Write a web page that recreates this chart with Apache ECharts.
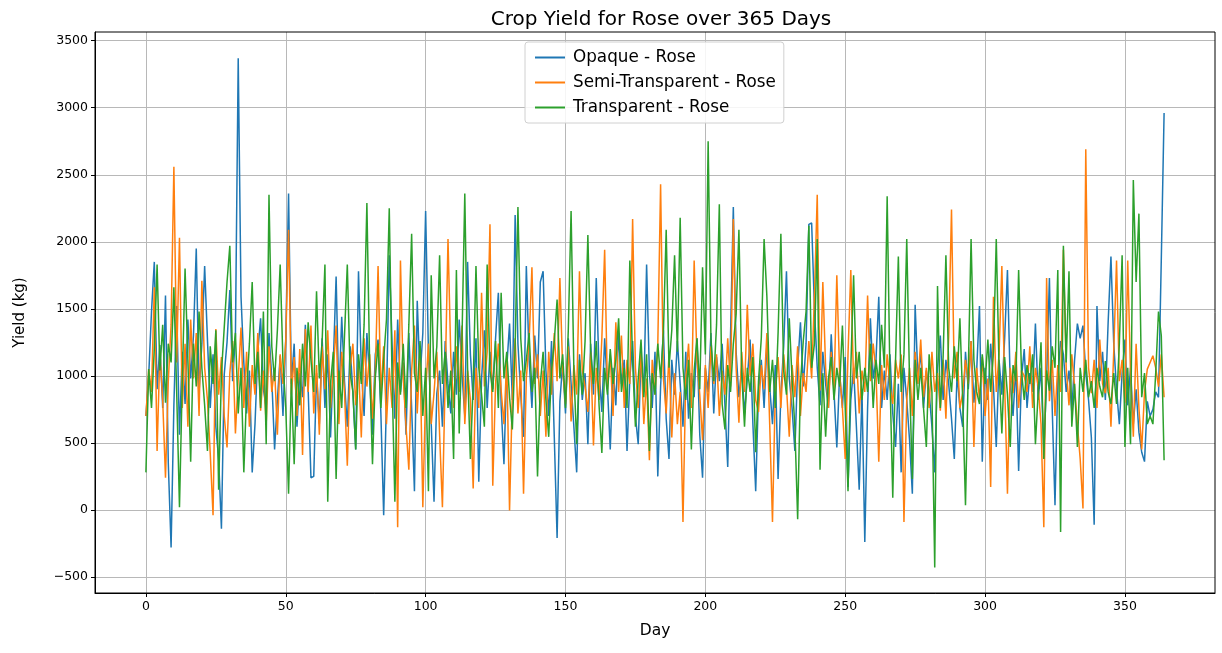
<!DOCTYPE html>
<html><head><meta charset="utf-8">
<script src="https://cdn.jsdelivr.net/npm/echarts@6/dist/echarts.min.js"></script>
<style>html,body{margin:0;padding:0;background:#fff}#c{width:1222px;height:653px}</style>
</head><body><div id="c"></div>
<script>
const title = "Crop Yield for Rose over 365 Days";
const seriesNames = ["Opaque - Rose", "Semi-Transparent - Rose", "Transparent - Rose"];
const xTicks = [0, 50, 100, 150, 200, 250, 300, 350];
const yTicks = [-500, 0, 500, 1000, 1500, 2000, 2500, 3000, 3500];

const opaque = [
700,1000,1480,1850,900,1230,760,1600,350,-280,
780,1520,560,1180,790,1420,980,1300,1950,880,
1240,1820,1270,760,1160,620,380,-140,1010,1250,
1640,960,1300,3370,1590,1100,720,1040,280,640,
1180,1430,900,760,1320,980,450,820,1150,700,
1280,2360,940,1240,620,1020,840,1380,900,240,
250,1020,640,1280,760,1160,540,1100,1740,820,
1440,960,620,1220,880,450,1780,1060,700,1320,
980,560,1160,1270,720,-40,820,1900,1240,680,
1420,880,1100,560,1320,760,140,1560,980,1320,
2230,1180,640,60,870,1040,620,1260,940,720,
1180,860,1420,1020,700,1850,1160,820,1280,210,
980,1340,760,1180,900,1280,1620,780,340,1060,
1390,820,2200,1240,860,545,1820,1120,760,1300,
980,1700,1780,1040,700,1260,540,-210,810,1100,
720,1280,940,620,280,1160,820,1020,490,1240,
860,1730,1040,730,1280,920,450,1060,780,1320,
940,1120,440,980,1260,700,490,1140,880,1830,
1020,760,1180,250,920,1340,680,380,1120,860,
1260,940,620,1180,680,1020,840,1280,560,240,
1060,880,1320,720,1140,960,1240,780,320,1300,
2260,1180,840,1060,720,980,1270,640,140,880,
1120,760,1240,920,640,1080,230,860,1220,1780,
980,760,440,1060,1400,920,1240,2130,2140,1500,
1060,780,1180,940,760,1310,880,465,1020,760,
1140,170,820,1060,620,150,880,-240,760,1430,
980,1120,1590,760,1040,820,1160,720,470,940,
280,1060,820,520,120,1530,980,1180,760,1040,
880,620,280,1060,1300,820,1120,940,680,380,
1020,760,620,1180,900,1260,800,1040,1520,360,
1060,820,1240,920,470,1120,860,1280,1790,940,
700,1080,290,980,1200,760,1020,880,1390,820,
1060,430,980,1730,760,35,980,1260,1160,880,
1040,730,1120,1390,1280,1375,1020,820,540,-110,
1520,960,1180,820,1400,1890,1240,900,640,1020,
1270,780,1060,640,900,580,430,360,810,700,
750,880,840,1870,2960
];

const semiTransparent = [
700,1050,880,1660,440,1180,820,240,960,1380,
2560,1100,2030,760,1240,620,1420,980,1320,700,
1710,1060,820,420,-40,1350,860,1140,700,465,
1020,1260,570,980,1360,760,1180,620,1080,860,
1320,740,1040,640,1220,880,1060,560,1160,940,
1260,2090,860,1140,700,1200,410,1350,880,1375,
720,1080,560,1220,900,1340,760,1040,1375,640,
1180,880,330,1060,1240,780,1100,540,1280,920,
1160,680,1020,1820,860,1220,640,1060,760,1340,
-130,1860,980,620,300,1040,1375,720,1160,20,
880,1240,640,870,1180,560,20,980,2020,1140,
760,1220,880,1375,640,1040,820,160,1060,760,
1620,920,1180,2130,180,940,1240,890,640,1120,
-5,860,1280,720,1040,120,980,1260,1810,940,
1160,700,1040,545,1180,860,1320,960,1730,1040,
790,1220,660,1080,860,1780,1040,920,730,1180,
480,1060,820,1280,1940,900,1160,700,1400,880,
1300,760,1120,940,2170,1060,760,1200,640,980,
370,1120,860,1240,2430,980,720,1160,540,1020,
640,880,-90,980,1240,760,1860,1120,860,520,
1080,760,1220,940,1160,700,1040,860,1280,920,
2170,1060,650,1180,880,1530,1000,1240,820,730,
1080,900,1320,640,-90,880,1140,760,1160,920,
545,1080,840,1220,700,1020,880,1260,980,1600,
2350,890,1700,1060,760,1180,900,1750,1020,760,
380,1160,1790,940,1180,720,1040,880,1600,960,
1240,1030,360,1080,820,1160,920,790,1120,980,
1160,-90,820,1060,700,1180,940,1270,840,1060,
760,1180,880,1020,740,1120,680,1300,2240,980,
1180,760,870,1120,940,1260,470,1060,820,1140,
700,980,170,1590,880,1160,1820,940,120,1060,
870,1180,760,1040,1000,880,1220,760,1060,920,
640,-130,1730,810,1120,700,1080,880,1940,1060,
780,1160,920,640,380,10,2690,1060,870,1120,
760,1270,940,870,1060,620,1180,1860,960,1120,
800,1860,1020,545,1240,760,450,880,1050,1100,
1150,1060,920,1160,840
];

const transparent = [
280,1050,760,1200,1830,1040,1380,800,1240,1100,
1660,880,20,960,1800,1120,360,1240,920,1480,
1060,780,440,1220,940,1340,150,1020,1360,1700,
1970,1100,1320,720,1060,280,880,1240,1700,940,
1180,760,1480,490,2350,1220,960,1340,1830,1100,
760,120,980,340,1060,780,1240,920,1400,1120,
880,1630,980,1260,1830,60,940,1180,230,1040,
760,1300,1830,1020,880,450,1160,940,1380,2290,
1060,340,980,1240,760,1120,1420,2250,980,60,
1100,860,1240,760,1380,2060,1020,880,1260,700,
1060,140,1750,980,1220,1900,940,1180,760,1040,
380,1790,570,1280,2360,1060,380,940,1820,1060,
860,620,1830,1040,880,1260,760,1620,980,1180,
840,600,1220,2260,1280,960,1120,1320,880,1060,
250,940,1180,820,545,1040,1260,1570,980,1160,
760,1340,2230,1040,490,1120,860,1260,2050,1180,
940,1260,780,425,1060,860,1200,940,1120,1430,
880,1060,760,1860,1100,620,980,1270,840,1160,
440,1020,860,1240,980,1320,2090,1060,1340,1900,
1180,2180,1060,820,1120,450,1040,1280,900,1810,
1160,2750,1270,960,1380,2280,790,600,1080,880,
1240,1460,2090,1020,620,1060,880,1140,430,960,
1280,2020,1590,880,1120,760,1320,2060,1040,860,
1430,980,620,-70,940,1260,1480,2120,1060,1240,
2020,300,1020,545,980,1140,820,1060,920,1375,
760,140,1060,1750,980,1180,820,1060,880,1240,
760,1120,940,1380,1060,2340,980,90,1120,1890,
880,1160,2020,960,230,1120,820,1060,760,470,
1160,880,-430,1670,760,1140,1900,1060,880,1220,
960,1430,820,35,1040,2020,1120,880,790,1160,
940,1270,880,1180,2020,1060,570,1140,860,470,
1080,960,1790,1040,820,1080,940,1160,490,880,
1250,380,1040,890,1220,1060,1790,-165,1970,1100,
1780,620,940,470,1060,880,1120,840,960,760,
1060,920,840,1110,880,790,1020,790,1240,1900,
470,1060,490,2460,1700,2210,840,1020,640,700,
640,1020,1480,1300,370
];

const colors = ["#1f77b4", "#ff7f0e", "#2ca02c"];
const allData = [opaque, semiTransparent, transparent];
const font = "DejaVu Sans";
const fmt = v => (v < 0 ? '\u2212' + (-v) : String(v));

const chart = echarts.init(document.getElementById('c'), null, {renderer: 'canvas'});
chart.setOption({
  animation: false,
  backgroundColor: '#fff',
  title: {
    text: title, left: 656, textAlign: 'center', top: 5,
    textStyle: {fontFamily: font, fontSize: 20, fontWeight: 'normal', color: '#000'}
  },
  legend: {
    orient: 'vertical', left: 525, top: 42,
    data: seriesNames,
    icon: 'rect', itemWidth: 30, itemHeight: 2, itemGap: 8,
    padding: [7, 8, 7, 10],
    backgroundColor: 'rgba(255,255,255,0.85)', borderColor: '#d0d0d0', borderWidth: 1, borderRadius: 3,
    textStyle: {fontFamily: font, fontSize: 16.8, color: '#000', padding: [0, 0, 0, 3]}
  },
  grid: {left: 95, right: 7, top: 32, bottom: 60, containLabel: false},
  xAxis: {
    type: 'value', min: -18.2, max: 382.2,
    name: 'Day', nameLocation: 'middle', nameGap: 30,
    nameTextStyle: {fontFamily: font, fontSize: 15.5, color: '#000'},
    axisLine: {onZero: false, lineStyle: {color: '#000', width: 1}},
    axisTick: {show: true, length: 4, lineStyle: {color: '#000'}, customValues: xTicks},
    axisLabel: {fontFamily: font, fontSize: 12.5, color: '#000', margin: 7, customValues: xTicks, formatter: fmt},
    splitLine: {show: true, lineStyle: {color: '#b8b8b8', width: 1}}
  },
  yAxis: {
    type: 'value', min: -620, max: 3565,
    name: 'Yield (kg)', nameLocation: 'middle', nameGap: 67, nameRotate: 90,
    nameTextStyle: {fontFamily: font, fontSize: 15, color: '#000'},
    axisLine: {show: true, onZero: false, lineStyle: {color: '#000', width: 1}},
    axisTick: {show: true, length: 4, lineStyle: {color: '#000'}, customValues: yTicks},
    axisLabel: {fontFamily: font, fontSize: 12.5, color: '#000', margin: 7, customValues: yTicks, formatter: fmt},
    splitLine: {show: true, lineStyle: {color: '#b8b8b8', width: 1}}
  },
  series: seriesNames.map((n, i) => ({
    name: n, type: 'line', showSymbol: false, symbol: 'none',
    data: allData[i].map((v, d) => [d, v]),
    lineStyle: {color: colors[i], width: 1.5},
    itemStyle: {color: colors[i]},
    emphasis: {disabled: true}
  })),
  graphic: [{type: 'rect', shape: {x: 95, y: 32, width: 1120, height: 561}, style: {fill: 'none', stroke: '#000', lineWidth: 1}, silent: true, z: 100}]
});
</script></body></html>
